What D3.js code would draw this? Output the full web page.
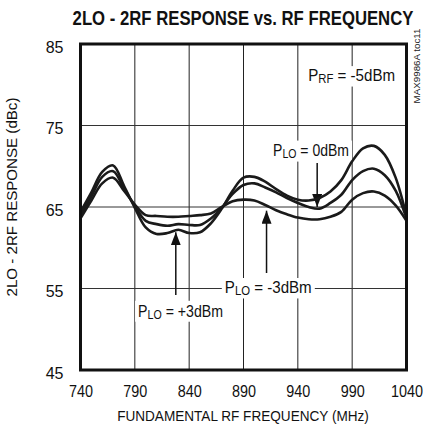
<!DOCTYPE html>
<html>
<head>
<meta charset="utf-8">
<script src="https://cdn.jsdelivr.net/npm/d3@7"></script>
<style>
  body { margin: 0; background: #fff; }
  svg { font-family: "Liberation Sans", Arial, sans-serif; }
</style>
</head>
<body>
<div id="plot"></div>
<script>
const margin = { top: 44, right: 16.5, bottom: 59, left: 80.5 },
      width = 423 - margin.left - margin.right,
      height = 429 - margin.top - margin.bottom;

// Data
const freqs = [740, 750, 760, 770, 780, 790, 800, 810, 820, 830, 840, 850, 860, 870, 880,
               890, 900, 910, 920, 930, 940, 950, 960, 970, 980, 990, 1000, 1010, 1020, 1030, 1040];
const plo3 = [64.4, 66.8, 69.3, 70.1, 67.6, 64.9, 62.5, 61.7, 61.8, 62.2, 61.8, 61.9, 63.0, 64.8, 67.0,
              68.6, 68.7, 68.1, 67.2, 66.4, 65.9, 65.8, 66.1, 66.9, 68.3, 70.6, 72.2, 72.5, 71.4, 68.6, 63.9];
const plo0 = [64.0, 66.3, 68.7, 69.4, 67.3, 65.1, 63.3, 62.9, 62.7, 62.9, 62.8, 62.8, 63.6, 64.9, 66.6,
              67.7, 67.9, 67.4, 66.8, 66.1, 65.5, 65.0, 64.8, 65.5, 66.5, 68.3, 69.4, 69.7, 68.9, 67.0, 63.6];
const ploM3 = [63.6, 65.8, 67.9, 68.6, 67.0, 65.3, 64.0, 63.9, 63.8, 63.8, 63.9, 64.0, 64.2, 65.0, 65.7,
               65.9, 65.8, 65.25, 64.6, 64.1, 63.7, 63.5, 63.5, 63.8, 64.4, 65.9, 66.7, 66.9, 66.4, 65.2, 63.3];
const xTicks = [740, 790, 840, 890, 940, 990, 1040];
const yTicks = [45, 55, 65, 75, 85];

const svg = d3.select("#plot")
  .append("svg")
    .attr("width", 423)
    .attr("height", 429)
  .append("g")
    .attr("transform", `translate(${margin.left},${margin.top})`);

const x = d3.scaleLinear().domain([740, 1040]).range([0, width]);
const y = d3.scaleLinear().domain([45, 85]).range([height, 0]);

// squeeze a text horizontally around ax so it is w wide (condensed look)
function fit(t, w, ax) {
  const s = w / t.node().getComputedTextLength();
  t.attr("transform", `translate(${ax},0) scale(${s},1) translate(${-ax},0)`);
}

// Grid
svg.append("g")
  .selectAll("line")
  .data(xTicks.slice(1, -1))
  .join("line")
    .attr("x1", d => x(d)).attr("x2", d => x(d))
    .attr("y1", 0).attr("y2", height)
    .attr("stroke", "#222").attr("stroke-width", 1);
svg.append("g")
  .selectAll("line")
  .data(yTicks.slice(1, -1))
  .join("line")
    .attr("x1", 0).attr("x2", width)
    .attr("y1", d => y(d)).attr("y2", d => y(d))
    .attr("stroke", "#333").attr("stroke-width", 1);

// Axes
const xAxis = svg.append("g")
  .attr("transform", `translate(0,${height})`)
  .call(d3.axisBottom(x).tickValues(xTicks).tickSize(0).tickPadding(15.5).tickFormat(d3.format("d")));
xAxis.select(".domain").remove();
xAxis.selectAll("text").style("font-size", "16px").attr("fill", "#111")
  .attr("transform", "scale(0.9,1)");

const yAxis = svg.append("g")
  .call(d3.axisLeft(y).tickValues(yTicks).tickSize(0).tickPadding(17));
yAxis.select(".domain").remove();
yAxis.selectAll("text").style("font-size", "16px").attr("fill", "#111").attr("dy", "0.5em");

// Labels with white backing
function label(fx, vy, main, sub, rest, len) {
  const g = svg.append("g");
  const t = g.append("text")
    .attr("x", x(fx)).attr("y", y(vy))
    .style("font-size", "16px").attr("fill", "#111");
  t.append("tspan").text(main);
  t.append("tspan").attr("dy", 2).style("font-size", "12px").text(sub);
  t.append("tspan").attr("dy", -2).text(rest);
  fit(t, len, x(fx));
  const b = t.node().getBBox();
  const s = len / b.width;
  g.insert("rect", "text")
    .attr("x", x(fx) - 3).attr("y", b.y - 1)
    .attr("width", len + 6).attr("height", b.height + 2)
    .attr("fill", "#fff");
}
label(949.5, 80.4, "P", "RF", " = -5dBm", 87);
label(917.2, 71.2, "P", "LO", " = 0dBm", 76);
label(872.8, 54.4, "P", "LO", " = -3dBm", 87);
label(793, 51.55, "P", "LO", " = +3dBm", 85);

// Arrows
svg.append("defs").append("marker")
    .attr("id", "head")
    .attr("viewBox", "0 0 13 10")
    .attr("refX", 13).attr("refY", 5)
    .attr("markerWidth", 13).attr("markerHeight", 10)
    .attr("markerUnits", "userSpaceOnUse")
    .attr("orient", "auto")
  .append("path")
    .attr("d", "M0,0L13,5L0,10Z")
    .attr("fill", "#111");

const arrows = [
  { f: 827.7, from: 54.2, to: 61.9 },
  { f: 911.2, from: 56.9, to: 64.55 },
  { f: 957.8, from: 70.4, to: 65.0 }
];
svg.append("g")
  .selectAll("line")
  .data(arrows)
  .join("line")
    .attr("x1", d => x(d.f)).attr("x2", d => x(d.f))
    .attr("y1", d => y(d.from)).attr("y2", d => y(d.to))
    .attr("stroke", "#111").attr("stroke-width", 1.5)
    .attr("marker-end", "url(#head)");

// Curves
const line = d3.line()
  .x((d, i) => x(freqs[i]))
  .y(d => y(d))
  .curve(d3.curveCatmullRom.alpha(0.5));
svg.append("g")
  .selectAll("path")
  .data([plo3, plo0, ploM3])
  .join("path")
    .attr("d", line)
    .attr("fill", "none")
    .attr("stroke", "#1a1a1a")
    .attr("stroke-width", 2.6);

// Frame
svg.append("rect")
  .attr("width", width).attr("height", height)
  .attr("fill", "none").attr("stroke", "#111").attr("stroke-width", 3);

// Titles
const root = d3.select("#plot svg");
const title = root.append("text")
  .attr("x", 243).attr("y", 25)
  .attr("text-anchor", "middle")
  .style("font-size", "20px").style("font-weight", "bold")
  .attr("fill", "#111")
  .text("2LO - 2RF RESPONSE vs. RF FREQUENCY");
fit(title, 341, 243);
const xTitle = root.append("text")
  .attr("x", 243).attr("y", 421.5)
  .attr("text-anchor", "middle")
  .style("font-size", "15px")
  .attr("fill", "#111")
  .text("FUNDAMENTAL RF FREQUENCY (MHz)");
fit(xTitle, 252, 243);
const yTitle = root.append("g")
  .attr("transform", "translate(17,197) rotate(-90)")
  .append("text")
  .attr("text-anchor", "middle")
  .style("font-size", "15px")
  .attr("fill", "#111")
  .text("2LO - 2RF RESPONSE (dBc)");
fit(yTitle, 199, 0);
const tag = root.append("g")
  .attr("transform", "translate(420,66) rotate(-90)")
  .append("text")
  .attr("text-anchor", "middle")
  .style("font-size", "9px")
  .attr("fill", "#222")
  .text("MAX9986A toc11");
fit(tag, 75, 0);
</script>
</body>
</html>
